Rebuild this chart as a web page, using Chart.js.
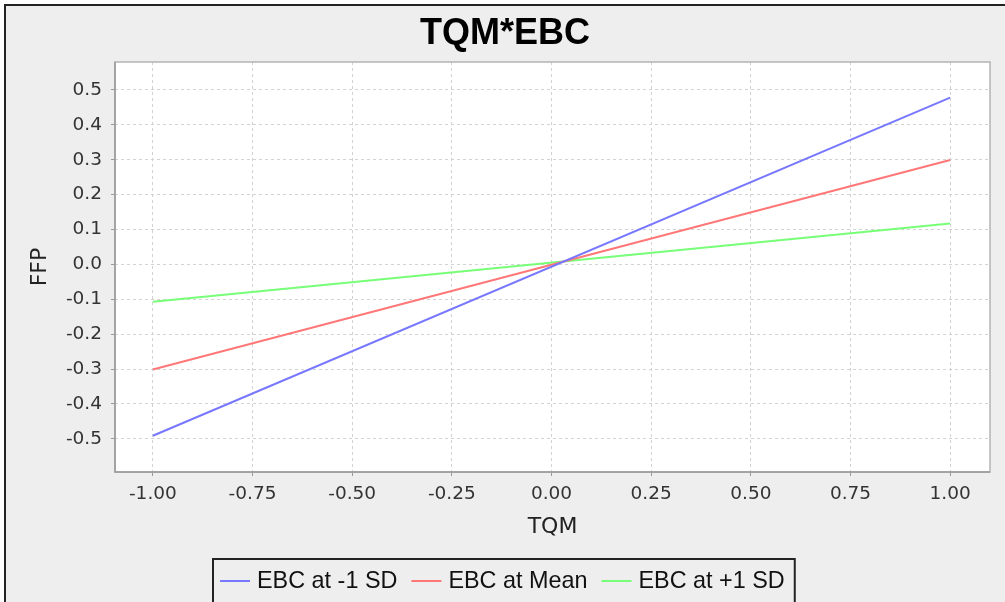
<!DOCTYPE html>
<html>
<head>
<meta charset="utf-8">
<script src="https://cdn.jsdelivr.net/npm/chart.js@4"></script>
<style>
  html, body { margin: 0; padding: 0; background: #ffffff; }
  canvas { display: block; }
</style>
</head>
<body>
<canvas id="chart" width="1005" height="602"></canvas>
<script>
// Data
const tqmValues = [-1, 1];
const seriesLabels = ['EBC at -1 SD', 'EBC at Mean', 'EBC at +1 SD'];
const lowEbc = [-0.491, 0.478];
const meanEbc = [-0.301, 0.299];
const highEbc = [-0.107, 0.117];
const seriesColors = ['#7777ff', '#ff7777', '#77ff77'];

const tickFont = { family: "'DejaVu Sans', sans-serif", size: 18.5 };
const labelFont = { family: "'DejaVu Sans', sans-serif", size: 22 };

function toPoints(ys) {
    return tqmValues.map((x, i) => ({ x: x, y: ys[i] }));
}

// Background, outer frame, plot frame
const framePlugin = {
    id: 'frame',
    beforeDraw(chart) {
        const ctx = chart.ctx;
        const a = chart.chartArea;
        ctx.save();
        ctx.fillStyle = '#ffffff';
        ctx.fillRect(0, 0, chart.width, chart.height);
        ctx.fillStyle = '#eeeeee';
        ctx.fillRect(5, 5, chart.width - 5, chart.height - 5);
        ctx.strokeStyle = '#222222';
        ctx.lineWidth = 2;
        ctx.beginPath();
        ctx.moveTo(5, chart.height);
        ctx.lineTo(5, 5);
        ctx.lineTo(chart.width, 5);
        ctx.stroke();
        ctx.fillStyle = '#ffffff';
        ctx.fillRect(a.left, a.top, a.right - a.left, a.bottom - a.top);
        ctx.restore();
    },
    beforeDatasetsDraw(chart) {
        const ctx = chart.ctx;
        const a = chart.chartArea;
        ctx.save();
        ctx.strokeStyle = '#b4b4b4';
        ctx.lineWidth = 1.5;
        ctx.strokeRect(a.left, a.top, a.right - a.left, a.bottom - a.top);
        ctx.strokeStyle = '#999999';
        ctx.beginPath();
        ctx.moveTo(a.left, a.top);
        ctx.lineTo(a.left, a.bottom);
        ctx.lineTo(a.right, a.bottom);
        ctx.stroke();
        ctx.restore();
    }
};

// Legend drawn in a box below the axis title
const legendPlugin = {
    id: 'boxLegend',
    afterDraw(chart) {
        const ctx = chart.ctx;
        const top = 559, midY = 581;
        ctx.save();
        ctx.font = "23.4px 'Liberation Sans', sans-serif";
        ctx.textBaseline = 'middle';
        ctx.textAlign = 'left';
        let x = 220;
        chart.data.datasets.forEach((ds, i) => {
            ctx.strokeStyle = ds.borderColor;
            ctx.lineWidth = 2;
            ctx.beginPath();
            ctx.moveTo(x, midY);
            ctx.lineTo(x + 30, midY);
            ctx.stroke();
            ctx.fillStyle = '#111111';
            ctx.fillText(ds.label, x + 37, midY + 1);
            x = x + 37 + ctx.measureText(ds.label).width + (i < chart.data.datasets.length - 1 ? 14 : 10);
        });
        ctx.strokeStyle = '#222222';
        ctx.lineWidth = 2;
        ctx.strokeRect(213, top, x - 213, chart.height + 10 - top);
        ctx.restore();
    }
};

const chart = new Chart(document.getElementById('chart').getContext('2d'), {
    type: 'scatter',
    data: {
        datasets: [
            { label: seriesLabels[0], data: toPoints(lowEbc), borderColor: seriesColors[0] },
            { label: seriesLabels[1], data: toPoints(meanEbc), borderColor: seriesColors[1] },
            { label: seriesLabels[2], data: toPoints(highEbc), borderColor: seriesColors[2] }
        ].map(ds => ({ ...ds, showLine: true, borderWidth: 2, pointRadius: 0, tension: 0, fill: false }))
    },
    options: {
        responsive: false,
        animation: false,
        layout: { padding: { left: 20, right: 15, top: 0, bottom: 0 } },
        plugins: {
            legend: { display: false },
            tooltip: { enabled: false },
            title: {
                display: true,
                text: 'TQM*EBC',
                color: '#000000',
                font: { family: "'Liberation Sans', Arial, sans-serif", size: 36, weight: 'bold' },
                padding: { top: 12.5, bottom: 6.3 }
            }
        },
        scales: {
            x: {
                type: 'linear',
                min: -1.095,
                max: 1.1,
                afterFit(scale) { scale.height = 130; },
                border: { display: false, dash: [3, 3] },
                grid: { color: '#d2d2d2', lineWidth: 1, tickLength: 4, tickColor: '#999999', tickWidth: 1 },
                ticks: {
                    stepSize: 0.25,
                    includeBounds: false,
                    padding: 7,
                    color: '#333333',
                    font: tickFont,
                    maxRotation: 0,
                    callback: v => v.toFixed(2)
                },
                title: { display: true, text: 'TQM', color: '#222222', font: labelFont, padding: { top: 0, bottom: 61.8 } }
            },
            y: {
                type: 'linear',
                min: -0.595,
                max: 0.58,
                afterFit(scale) { scale.width = 95; },
                border: { display: false, dash: [3, 3] },
                grid: { color: '#d2d2d2', lineWidth: 1, tickLength: 4, tickColor: '#999999', tickWidth: 1 },
                ticks: {
                    stepSize: 0.1,
                    includeBounds: false,
                    padding: 9,
                    color: '#333333',
                    font: tickFont,
                    callback: v => (Math.abs(v) < 1e-9 ? 0 : v).toFixed(1)
                },
                title: { display: true, text: 'FFP', color: '#222222', font: labelFont, padding: { top: 6.8, bottom: 0 } }
            }
        }
    },
    plugins: [framePlugin, legendPlugin]
});
</script>
</body>
</html>
